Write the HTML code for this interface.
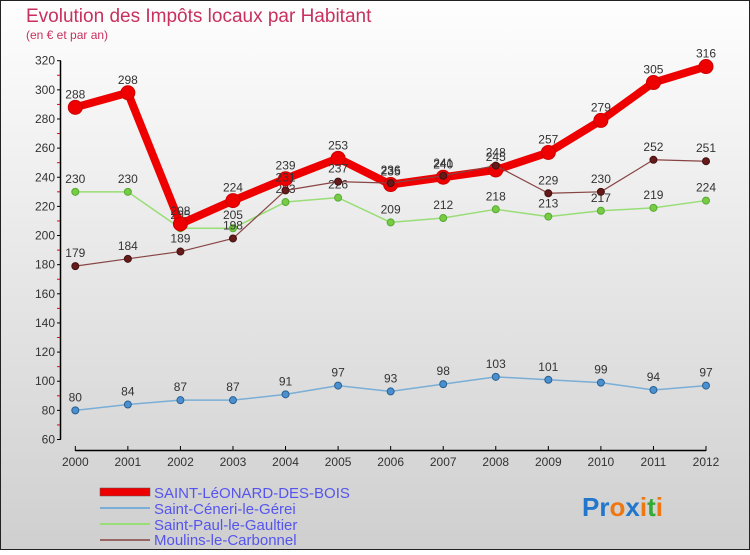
<!DOCTYPE html>
<html><head><meta charset="utf-8"><style>
body{margin:0;}
#c{width:750px;height:550px;position:relative;font-family:"Liberation Sans",sans-serif;}
</style></head><body>
<div id="c">
<svg id="s" width="750" height="550" xmlns="http://www.w3.org/2000/svg">
<defs><linearGradient id="bg" x1="0" y1="0" x2="0" y2="1"><stop offset="0" stop-color="#fefefe"/><stop offset="1" stop-color="#cfcfcf"/></linearGradient></defs>
<rect x="0.5" y="0.5" width="749" height="549" fill="url(#bg)" stroke="#222"/>
<text x="26" y="22" font-size="19" fill="#c8305e">Evolution des Impôts locaux par Habitant</text>
<text x="26" y="39" font-size="12" fill="#c8305e">(en € et par an)</text>
<g id="axes"></g><g id="series"></g>
<g font-size="15" fill="#5555ee">
<rect x="100" y="488" width="50" height="8" fill="#e00" stroke="#555" stroke-width="0.5"/>
<text x="154" y="498" fill="#5555ee">SAINT-LéONARD-DES-BOIS</text>
<line x1="100" y1="508" x2="150" y2="508" stroke="#7aaed6" stroke-width="2"/>
<text x="154" y="514" fill="#5555ee">Saint-Céneri-le-Gérei</text>
<line x1="100" y1="524" x2="150" y2="524" stroke="#99dd77" stroke-width="2"/>
<text x="154" y="530" fill="#5555ee">Saint-Paul-le-Gaultier</text>
<line x1="100" y1="540" x2="150" y2="540" stroke="#996666" stroke-width="2"/>
<text x="154" y="545" fill="#5555ee">Moulins-le-Carbonnel</text>
</g>
<g font-size="26" font-weight="bold">
<text x="582" y="516"><tspan fill="#2277cc">Pr</tspan><tspan fill="#ee7711">o</tspan><tspan fill="#2277cc">x</tspan><tspan fill="#ee7711">i</tspan><tspan fill="#33aa33">t</tspan><tspan fill="#ee7711">i</tspan></text>
</g>
</svg>
</div>
<script>
const years=[2000,2001,2002,2003,2004,2005,2006,2007,2008,2009,2010,2011,2012];
const yTicks=[60,80,100,120,140,160,180,200,220,240,260,280,300,320];
const leonard=[288,298,208,224,239,253,235,240,245,257,279,305,316];
const ceneri=[80,84,87,87,91,97,93,98,103,101,99,94,97];
const paul=[230,230,205,205,223,226,209,212,218,213,217,219,224];
const moulins=[179,184,189,198,231,237,236,241,248,229,230,252,251];
const NS='http://www.w3.org/2000/svg';
const X=i=>75.3+i*(706-75.3)/(years.length-1);
const Y=v=>60.7+(320-v)*(439.5-60.7)/260;
function mk(t,a,p){const e=document.createElementNS(NS,t);for(const k in a)e.setAttribute(k,a[k]);p.appendChild(e);return e;}
const ax=document.getElementById('axes');
let l=mk('line',{x1:60.5,y1:Y(320),x2:60.5,y2:Y(60),stroke:'#000','stroke-width':1.5},ax);


yTicks.forEach((v,i)=>{
 mk('line',{x1:57,y1:Y(v),x2:61,y2:Y(v),stroke:'#000'},ax);
 if(i<yTicks.length-1) mk('line',{x1:57,y1:Y(v+10),x2:60,y2:Y(v+10),stroke:'#e00'},ax);
 const t=mk('text',{x:55,y:Y(v)+4,'font-size':12,fill:'#333','text-anchor':'end'},ax);
 t.textContent=v;
 
 
});
l=mk('line',{x1:X(0),y1:450.5,x2:X(12),y2:450.5,stroke:'#000','stroke-width':1.5},ax);


years.forEach((y,i)=>{
 mk('line',{x1:X(i),y1:446,x2:X(i),y2:451,stroke:'#000'},ax);
 const t=mk('text',{x:X(i),y:466,'font-size':12,fill:'#333','text-anchor':'middle'},ax);
 t.textContent=y;
 
 
});
const sg=document.getElementById('series');
function draw(data,name,color,w,r,dot,stroke){
 const g=mk('g',{},sg);
 
 
 const p=mk('polyline',{points:data.map((v,i)=>X(i)+','+Y(v)).join(' '),fill:'none',stroke:color,'stroke-width':w,'stroke-linejoin':'round'},g);
 
 
 data.forEach((v,i)=>{
  const c=mk('circle',{cx:X(i),cy:Y(v),r:r,fill:dot,stroke:stroke,'stroke-width':1},g);
  
  
  const t=mk('text',{x:X(i),y:Y(v)-9,'font-size':12,fill:'#333','text-anchor':'middle'},g);
  t.textContent=v;
  
  
 });
}
draw(ceneri,'saint-ceneri','#7aaed6',1.5,3.5,'#4a90d0','#2a6090');
draw(paul,'saint-paul','#99dd77',1.5,3.5,'#77cc44','#55aa33');
draw(leonard,'saint-leonard','#ee0000',8,7,'#ee0000','#cc0000');
draw(moulins,'moulins','#884444',1.2,3.5,'#661a1a','#441010');
</script>
</body></html>
